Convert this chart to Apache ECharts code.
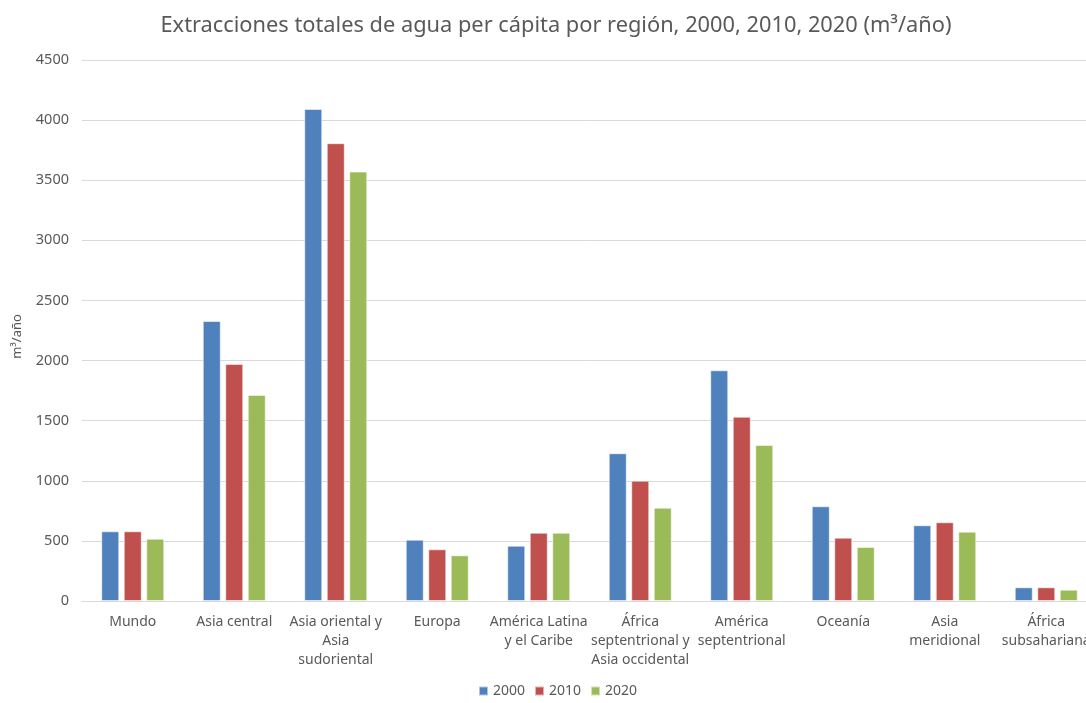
<!DOCTYPE html>
<html>
<head>
<meta charset="utf-8">
<script src="https://cdn.jsdelivr.net/npm/echarts@6/dist/echarts.min.js"></script>
<style>
  html, body { margin: 0; padding: 0; background: #ffffff; overflow: hidden; }
  /* the plot runs a little past the right edge of the window */
  #chart { width: 1097px; height: 703px; }
</style>
</head>
<body>
<div id="chart"></div>
<script>
// Regions (line breaks follow the axis label wrapping)
const regions = [
  'Mundo',
  'Asia central',
  'Asia oriental y\nAsia\nsudoriental',
  'Europa',
  'América Latina\ny el Caribe',
  'África\nseptentrional y\nAsia occidental',
  'América\nseptentrional',
  'Oceanía',
  'Asia\nmeridional',
  'África\nsubsahariana'
];

// Per-capita total water withdrawals, m³/año
const values2000 = [580, 2329, 4093, 510, 460, 1229, 1919, 788, 630, 114];
const values2010 = [580, 1972, 3808, 430, 568, 1001, 1533, 527, 655, 114];
const values2020 = [518, 1714, 3572, 380, 568, 776, 1298, 449, 577, 94];

const yearNames = ['2000', '2010', '2020'];
const yTicks = { min: 0, max: 4500, interval: 500 };

const FONT = '"Noto Sans", "Open Sans", sans-serif';
const TEXT = '#595959';
const colors = ['#4f81bd', '#c0504d', '#9bbb59'];

function barSeries(name, data, color) {
  return {
    name: name,
    type: 'bar',
    data: data,
    barWidth: 18,
    barGap: '25%',
    itemStyle: { color: color, borderColor: 'rgba(255,255,255,0.55)', borderWidth: 1 },
    emphasis: { disabled: true }
  };
}

const chart = echarts.init(document.getElementById('chart'), null, { renderer: 'canvas' });
chart.setOption({
  animation: false,
  backgroundColor: '#ffffff',
  title: {
    text: 'Extracciones totales de agua per cápita por región, 2000, 2010, 2020 (m³/año)',
    left: 551,
    textAlign: 'center',
    top: 10,
    textStyle: { fontFamily: FONT, fontSize: 21.8, fontWeight: 'normal', color: TEXT }
  },
  legend: {
    data: yearNames,
    bottom: 0,
    left: 473,
    itemWidth: 9,
    itemHeight: 9,
    itemGap: 9,
    icon: 'rect',
    textStyle: { fontFamily: FONT, fontSize: 14, color: TEXT }
  },
  grid: { left: 82, top: 60, bottom: 102, right: 0, containLabel: false },
  xAxis: {
    type: 'category',
    data: regions,
    axisTick: { show: false },
    axisLine: { lineStyle: { color: '#d9d9d9', width: 1 } },
    axisLabel: {
      interval: 0,
      margin: 12,
      fontFamily: FONT,
      fontSize: 14,
      lineHeight: 19,
      color: TEXT
    }
  },
  yAxis: {
    type: 'value',
    min: yTicks.min,
    max: yTicks.max,
    interval: yTicks.interval,
    name: 'm³/año',
    nameLocation: 'middle',
    nameGap: 58,
    nameRotate: 90,
    nameTextStyle: { fontFamily: FONT, fontSize: 13, color: TEXT, padding: [0, 12, 0, 0] },
    axisLine: { show: false },
    axisTick: { show: false },
    axisLabel: {
      fontFamily: FONT, fontSize: 14.5, color: TEXT, margin: 13,
      formatter: function (v) { return String(v); }
    },
    splitLine: { lineStyle: { color: '#d9d9d9', width: 1 } }
  },
  series: [
    barSeries(yearNames[0], values2000, colors[0]),
    barSeries(yearNames[1], values2010, colors[1]),
    barSeries(yearNames[2], values2020, colors[2])
  ]
});
</script>
</body>
</html>
